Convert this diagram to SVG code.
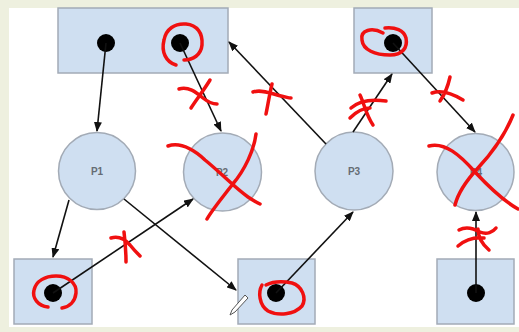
<svg xmlns="http://www.w3.org/2000/svg" width="519" height="332" viewBox="0 0 519 332">
<style>
.box{fill:#cfdff1;stroke:#a3abb6;stroke-width:1.5}
.dot{fill:#000}
.lbl{font-family:"Liberation Sans",Arial,sans-serif;font-size:10px;font-weight:bold;fill:#666c74;text-anchor:middle}
.edge{stroke:#111;stroke-width:1.6;fill:none;marker-end:url(#ah)}
.red{stroke:#f01010;stroke-width:3.5;fill:none;stroke-linecap:round;stroke-linejoin:round}
</style>
<defs>
<marker id="ah" markerWidth="10" markerHeight="8" refX="9" refY="4" orient="auto" markerUnits="userSpaceOnUse">
<path d="M0,0 L10,4 L0,8 Z" fill="#111"/>
</marker>
</defs>
<rect x="0" y="0" width="519" height="332" fill="#eef0df"/>
<rect x="9" y="8" width="510" height="319" fill="#ffffff"/>
<g id="topLeft"><rect class="box" x="58" y="8" width="170" height="65"/><circle class="dot" cx="106" cy="43" r="9"/><circle class="dot" cx="180" cy="43" r="9"/></g>
<g id="topRight"><rect class="box" x="354" y="8" width="78" height="65"/><circle class="dot" cx="393" cy="43" r="9"/></g>
<g id="P1"><circle class="box" cx="97" cy="171" r="38.5"/><text class="lbl" x="97" y="175">P1</text></g>
<g id="P2"><circle class="box" cx="222.5" cy="172" r="39"/><text class="lbl" x="222" y="176">P2</text></g>
<g id="P3"><circle class="box" cx="354" cy="171" r="39"/><text class="lbl" x="354" y="175">P3</text></g>
<g id="P4"><circle class="box" cx="475.5" cy="172" r="38.5"/><text class="lbl" x="476" y="176">P4</text></g>
<g id="botLeft"><rect class="box" x="14" y="259" width="78" height="65"/><circle class="dot" cx="53" cy="293" r="9"/></g>
<g id="botMid"><rect class="box" x="238" y="259" width="77" height="65"/><circle class="dot" cx="276" cy="293" r="9"/></g>
<g id="botRight"><rect class="box" x="437" y="259" width="77" height="65"/><circle class="dot" cx="476" cy="293" r="9"/></g>
<g id="connectors">
<line class="edge" x1="106" y1="43" x2="97" y2="131"/>
<line class="edge" x1="180" y1="43" x2="221" y2="131"/>
<line class="edge" x1="326" y1="144" x2="229" y2="42"/>
<line class="edge" x1="353" y1="132" x2="392" y2="74"/>
<line class="edge" x1="393" y1="43" x2="475" y2="132"/>
<line class="edge" x1="69" y1="200" x2="53" y2="257"/>
<line class="edge" x1="53" y1="293" x2="193" y2="199"/>
<line class="edge" x1="124" y1="199" x2="236" y2="290"/>
<line class="edge" x1="276" y1="293" x2="353" y2="212"/>
<line class="edge" x1="476" y1="293" x2="476" y2="212"/>
</g>
<g id="annotations">
<path class="red" d="M176,65 C166,62 161,52 164,40 C166,29 175,23 186,24 C197,25 203,33 202,45 C201,55 193,60 184,60"/>
<path class="red" d="M179,89 C188,86 196,92 203,98 C208,102 213,104 217,104 M210,80 C204,90 196,100 191,108"/>
<path class="red" d="M253,92 C262,89 272,94 281,96 C286,97 289,98 291,98 M272,84 C270,92 268,104 266,114"/>
<path class="red" d="M168,146 C180,142 192,148 205,160 C220,172 235,188 248,197 C254,201 258,203 260,204 M256,134 C254,150 245,170 232,185 C222,198 212,210 207,219"/>
<path class="red" d="M383,33 C372,27 360,30 362,40 C363,50 375,55 390,55 C402,55 408,48 406,38 C404,30 395,27 385,28"/>
<path class="red" d="M351,108 C360,100 372,99 386,101 M360,95 C364,103 366,115 373,125 M350,118 C356,112 364,108 370,108"/>
<path class="red" d="M432,93 C440,90 450,92 463,100 M450,77 C448,86 445,94 440,101"/>
<path class="red" d="M429,146 C445,142 460,155 475,172 C488,186 502,200 518,209 M513,115 C505,135 490,155 478,168 C466,181 458,193 455,205"/>
<path class="red" d="M459,230 C466,226 473,228 480,232 C487,235 493,232 496,228 M478,229 C478,236 482,244 489,250 M458,246 C465,240 475,237 484,238"/>
<path class="red" d="M48,307 C38,306 32,298 34,290 C36,281 45,276 56,276 C68,276 77,283 76,293 C75,302 69,307 62,308"/>
<path class="red" d="M111,238 C118,236 124,238 130,245 C134,250 138,254 140,256 M124,232 C125,240 126,252 126,262"/>
<path class="red" d="M262,285 C258,292 259,305 268,311 C278,316 294,315 302,306 C307,298 302,286 292,283 C282,281 272,282 266,285"/>
</g>
<g id="cursor">
<path d="M245,295 L232,310 L230,315 L235,312 L248,298 Z" fill="#ffffff" stroke="#555" stroke-width="1"/>
</g>
</svg>
